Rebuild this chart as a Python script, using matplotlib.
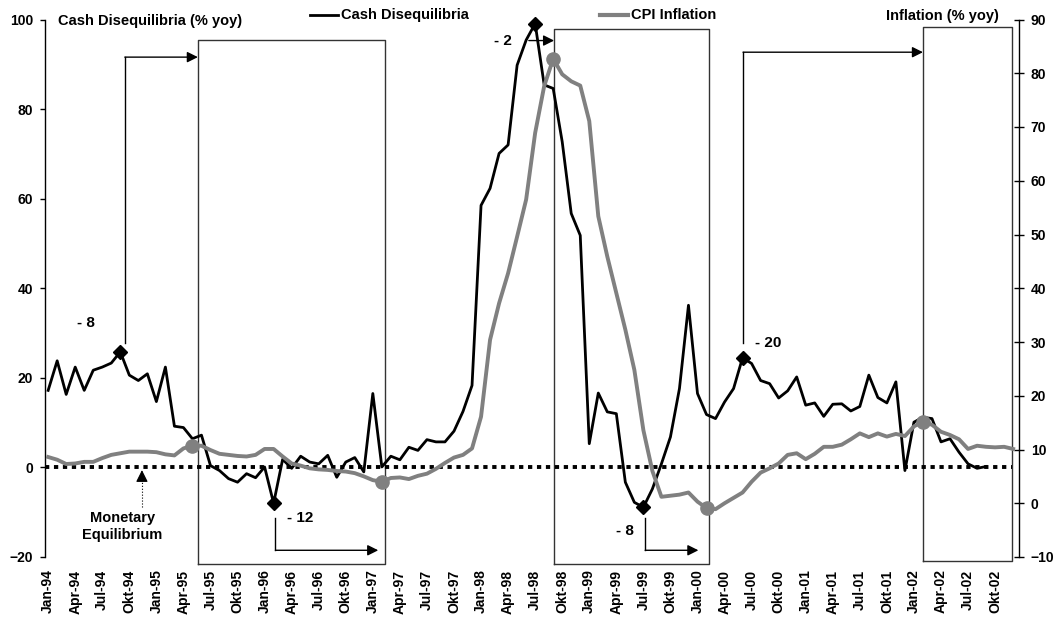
import matplotlib
matplotlib.use('Agg')
import matplotlib.pyplot as plt
from matplotlib.lines import Line2D
import numpy as np

plt.rcParams['font.family'] = ['Liberation Sans', 'DejaVu Sans']
plt.rcParams['font.weight'] = 'bold'

# ---------------- data ----------------
years = ['94', '95', '96', '97', '98', '99', '00', '01', '02']
month_names = ['Jan', 'Apr', 'Jul', 'Okt']
tick_labels = [f'{m}-{y}' for y in years for m in month_names]

# Cash Disequilibria (% yoy), monthly Jan-94 .. Sep-02 (left axis)
cash = [17.2, 23.8, 16.3, 22.4, 17.2, 21.7, 22.4, 23.3, 25.8, 20.6,
        19.4, 20.9, 14.7, 22.4, 9.2, 8.9, 6.4, 7.2, 0.4, -0.7,
        -2.5, -3.3, -1.4, -2.3, 0.1, -8.0, 1.8, -0.2, 2.5, 1.2,
        0.8, 2.7, -2.2, 1.2, 2.2, -1.0, 16.5, 0.1, 2.5, 1.7,
        4.5, 3.8, 6.2, 5.7, 5.7, 8.1, 12.5, 18.3, 58.5, 62.3,
        70.1, 72.0, 89.8, 95.4, 99.1, 85.4, 84.6, 72.7, 56.7, 51.8,
        5.3, 16.6, 12.4, 12.0, -3.3, -7.8, -8.9, -4.8, 0.8, 6.8,
        17.6, 36.2, 16.5, 11.8, 10.9, 14.6, 17.6, 24.5, 23.2, 19.4,
        18.7, 15.5, 17.1, 20.2, 13.9, 14.4, 11.4, 14.1, 14.2, 12.6,
        13.6, 20.6, 15.6, 14.4, 19.1, -0.7, 10.1, 11.2, 10.9, 5.7,
        6.4, 3.4, 0.8, -0.2, 0.2]

# CPI Inflation (% yoy), monthly Jan-94 .. Dec-02 (right axis)
cpi = [8.6, 8.1, 7.3, 7.4, 7.7, 7.7, 8.4, 9.0, 9.3, 9.6,
       9.6, 9.6, 9.5, 9.1, 8.9, 10.2, 10.7, 10.7, 9.9, 9.2,
       9.0, 8.8, 8.7, 9.0, 10.1, 10.1, 8.7, 7.4, 7.0, 6.5,
       6.3, 6.2, 6.0, 5.9, 5.6, 5.0, 4.3, 4.0, 4.7, 4.8,
       4.5, 5.1, 5.5, 6.4, 7.5, 8.5, 9.0, 10.2, 16.1, 30.4,
       37.2, 42.8, 49.6, 56.5, 68.9, 77.6, 82.7, 79.8, 78.5, 77.7,
       71.1, 53.4, 45.9, 39.1, 32.3, 24.8, 13.6, 6.0, 1.2, 1.4,
       1.6, 2.0, 0.3, -0.9, -1.1, 0.0, 1.0, 2.0, 4.0, 5.7,
       6.5, 7.4, 9.0, 9.3, 8.2, 9.2, 10.5, 10.5, 10.9, 11.9,
       13.0, 12.3, 13.0, 12.4, 12.9, 12.5, 14.3, 15.2, 14.6, 13.3,
       12.7, 11.9, 10.1, 10.7, 10.5, 10.4, 10.5, 10.1]

# highlighted turning points (month index)
cash_peaks = [8, 25, 54, 66, 77]
cpi_peaks = [16, 37, 56, 73, 97]
lag_labels = ['- 8', '- 12', '- 2', '- 8', '- 20']

GRAY = '#808080'

fig = plt.figure(figsize=(10.57, 6.18), dpi=100)
W, H = 1057, 618
ax = fig.add_axes([45 / W, (H - 557) / H, 974 / W, 537.5 / H])
ax2 = ax.twinx()

x = np.arange(len(cpi))
xc = np.arange(len(cash))

ax.plot(xc, cash, color='black', lw=2.0, zorder=3)
ax.plot(cash_peaks, [cash[i] for i in cash_peaks], 'D', color='black',
        ms=7.5, zorder=4, clip_on=False)
ax2.plot(x, cpi, color=GRAY, lw=2.8, zorder=3)
ax2.plot(cpi_peaks, [cpi[i] for i in cpi_peaks], 'o', color=GRAY,
         ms=9.5, zorder=4)

ax.set_xlim(-0.35, 107.65)
ax.set_ylim(-20, 100)
ax2.set_ylim(-10, 90)
ax.set_yticks(range(-20, 101, 20))
ax2.set_yticks(range(-10, 91, 10))
ax.set_xticks(range(0, len(cpi), 3))
ax.set_xticklabels(tick_labels, rotation=90, fontsize=10, fontweight='bold')

for a in (ax, ax2):
    a.spines['top'].set_visible(False)
    a.spines['bottom'].set_visible(False)
ax2.spines['left'].set_visible(False)
ax.spines['right'].set_visible(False)
ax.spines['left'].set_linewidth(1.0)
ax2.spines['right'].set_linewidth(1.0)

ax.tick_params(axis='y', direction='out', length=3.5, width=1, pad=5,
               labelsize=10)
ax.tick_params(axis='x', length=0, pad=9)
ax2.tick_params(axis='y', direction='inout', length=7, width=1, pad=5,
                labelsize=10)
for lab in ax.get_yticklabels() + ax2.get_yticklabels():
    lab.set_fontweight('bold')

# monetary equilibrium line
ax.plot([-0.35, 106.9], [0, 0], color='black', lw=2.8,
        linestyle=(0, (1.1, 1.2)), zorder=5)

# boxes
box_color = '#333333'
boxes = [(16.6, 37.4, -21.5, 95.4), (56.1, 73.3, -21.5, 97.9),
         (97.0, 106.9, -20.8, 98.3)]
for x0, x1, y0, y1 in boxes:
    ax.plot([x0, x0, x1, x1, x0], [y0, y1, y1, y0, y0], color=box_color,
            lw=1.0, clip_on=False, zorder=2)

# lag arrows
arr = dict(arrowstyle='-|>', color='black', lw=1.0, mutation_scale=16,
           shrinkA=0, shrinkB=0)
# -8 (1994)
ax.plot([8.5, 8.5], [27.7, 91.6], color='black', lw=1.0)
ax.annotate('', xy=(16.6, 91.6), xytext=(8.5, 91.6), arrowprops=arr)
# -12 (1996)
ax.plot([25.2, 25.2], [-11.3, -18.5], color='black', lw=1.0)
ax.annotate('', xy=(36.6, -18.5), xytext=(25.2, -18.5), arrowprops=arr)
# -2 (1998)
ax.annotate('', xy=(56.1, 95.3), xytext=(53.3, 95.3), arrowprops=arr)
# -8 (1999)
ax.plot([66.2, 66.2], [-11.3, -18.5], color='black', lw=1.0)
ax.annotate('', xy=(72.1, -18.5), xytext=(66.2, -18.5), arrowprops=arr)
# -20 (2000)
ax.plot([77.05, 77.05], [27.7, 92.7], color='black', lw=1.0)
ax.annotate('', xy=(97.0, 92.7), xytext=(77.05, 92.7), arrowprops=arr)

label_pos = [(4.2, 32.2), (28.0, -11.4), (50.4, 95.2), (64.0, -14.1),
             (79.8, 27.8)]
for (tx, ty), t in zip(label_pos, lag_labels):
    ax.text(tx, ty, t, ha='center', va='center', fontsize=11,
            fontweight='bold')

# monetary equilibrium annotation
ax.plot([10.4, 10.4], [-8.8, -2.5], color='black', lw=0.8, linestyle=':')
ax.annotate('', xy=(10.4, -0.6), xytext=(10.4, -3.0),
            arrowprops=dict(arrowstyle='-|>', color='black', lw=0.8,
                            mutation_scale=18, shrinkA=0, shrinkB=0))
ax.text(8.2, -13.2, 'Monetary\nEquilibrium', ha='center', va='center',
        fontsize=10.5, fontweight='bold', linespacing=1.3)

# titles and legend
fig.text(58 / W, 1 - 21 / H, 'Cash Disequilibria (% yoy)', ha='left',
         va='center', fontsize=10.5, fontweight='bold')
fig.text(999 / W, 1 - 16 / H, 'Inflation (% yoy)', ha='right',
         va='center', fontsize=10.5, fontweight='bold')
fig.add_artist(Line2D([310 / W, 338 / W], [1 - 15 / H] * 2, color='black',
                      lw=2.0))
fig.text(341 / W, 1 - 15 / H, 'Cash Disequilibria', ha='left', va='center',
         fontsize=10.5, fontweight='bold')
fig.add_artist(Line2D([600 / W, 628 / W], [1 - 15 / H] * 2, color=GRAY,
                      lw=3.0))
fig.text(631 / W, 1 - 15 / H, 'CPI Inflation', ha='left', va='center',
         fontsize=10.5, fontweight='bold')

fig.savefig('out.png', dpi=100)
